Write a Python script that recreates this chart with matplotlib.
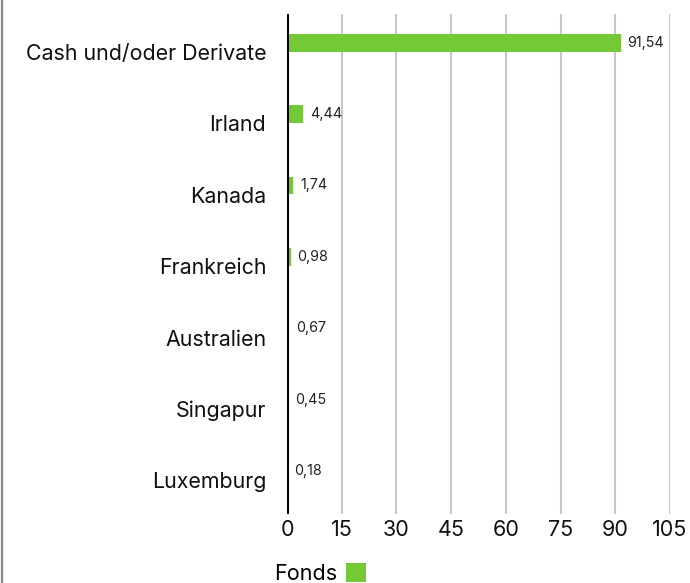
import matplotlib
matplotlib.use('Agg')
import matplotlib.pyplot as plt
from matplotlib.lines import Line2D
import numpy as np

plt.rcParams['font.family'] = ['Inter', 'DejaVu Sans']

# Laender-Aufteilung (%)
countries = ['Cash und/oder Derivate', 'Irland', 'Kanada', 'Frankreich',
             'Australien', 'Singapur', 'Luxemburg']
weights = [91.54, 4.44, 1.74, 0.98, 0.67, 0.45, 0.18]
xticks = [0, 15, 30, 45, 60, 75, 90, 105]
series_name = 'Fonds'

green = '#74C936'

fig = plt.figure(figsize=(6.9, 5.83), dpi=100)
ax = fig.add_axes([287/690, 1 - 514/583, 383/690, 500/583])

pos = np.arange(len(countries))
ax.barh(pos - 0.1, weights, height=0.25, color=green, label=series_name, zorder=3)

for y, v in zip(pos, weights):
    ax.text(v + 1.8, y - 0.1, f'{v:.2f}'.replace('.', ','), va='center', ha='left',
            fontsize=10.3, color='#222222')

ax.set_ylim(len(countries) - 0.5, -0.5)
ax.set_xlim(0, 105)
ax.set_yticks(pos + 0.03)
ax.set_yticklabels(countries, fontsize=15.4, color='#111111')
ax.set_xticks(xticks)
ax.set_xticklabels([str(t) for t in xticks], fontsize=15.5, color='#111111')
ax.tick_params(axis='y', length=0, pad=15)
ax.tick_params(axis='x', length=0, pad=4)

for s in ax.spines.values():
    s.set_visible(False)
ax.grid(axis='x', color='#c8c8c8', linewidth=1.5, zorder=0)
ax.axvline(0, color='black', linewidth=2.9, zorder=4)

leg = fig.legend(loc='upper left', bbox_to_anchor=(274/690, 1 - 563/583),
                 bbox_transform=fig.transFigure, frameon=False, markerfirst=False,
                 fontsize=15.5, handlelength=0.95, handleheight=0.95, handletextpad=0.4,
                 borderpad=0, borderaxespad=0)

# gray border on the left
fig.add_artist(Line2D([1.5/690, 1.5/690], [0, 1], color='#888888', linewidth=1.6))

fig.savefig('out.png', dpi=100)
